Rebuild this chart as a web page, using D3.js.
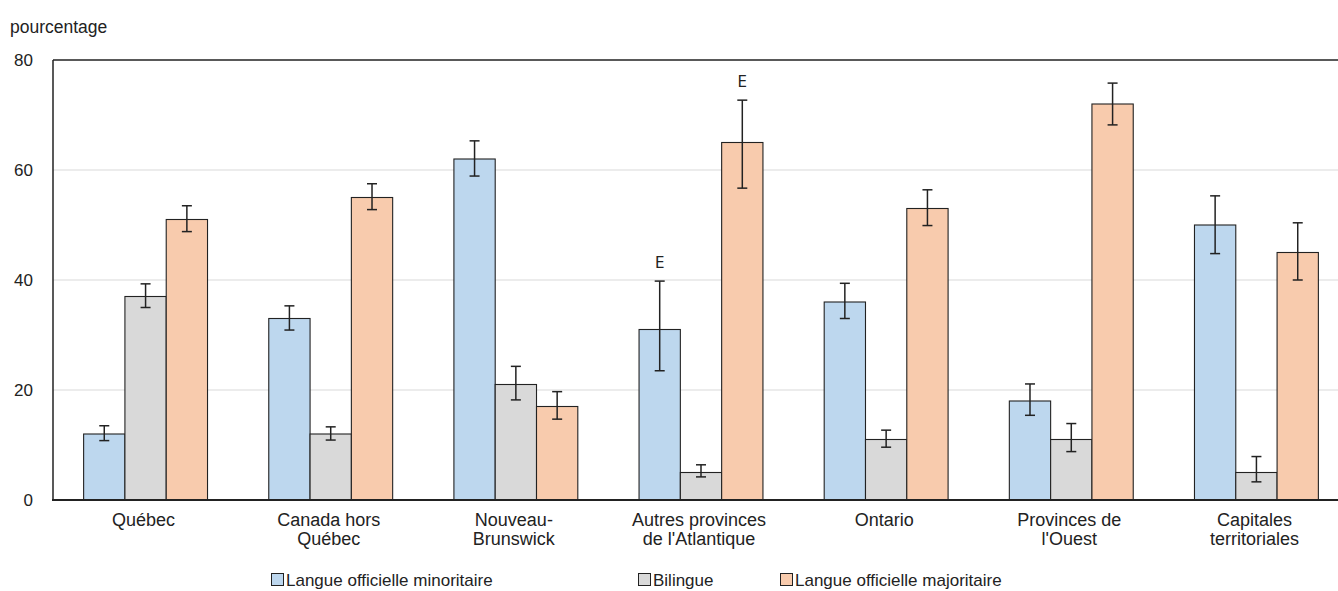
<!DOCTYPE html>
<html lang="fr">
<head>
<meta charset="utf-8">
<script src="https://cdn.jsdelivr.net/npm/d3@7"></script>
<style>
  html, body { margin: 0; padding: 0; background: #fff; }
  svg { display: block; }
  text { font-family: "Liberation Sans", Arial, sans-serif; fill: #222; }
</style>
</head>
<body>
<svg id="chart" width="1338" height="591"></svg>
<script>
// Regions (category labels, line breaks marked with \n)
const categories = [
  "Québec",
  "Canada hors\nQuébec",
  "Nouveau-\nBrunswick",
  "Autres provinces\nde l'Atlantique",
  "Ontario",
  "Provinces de\nl'Ouest",
  "Capitales\nterritoriales"
];

// Series values (percentage)
const minoritaire = [12, 33, 62, 31, 36, 18, 50];
const bilingue    = [37, 12, 21, 5, 11, 11, 5];
const majoritaire = [51, 55, 17, 65, 53, 72, 45];

// Confidence intervals (low / high)
const minoritaireLow  = [10.8, 30.9, 58.9, 23.5, 33.0, 15.4, 44.8];
const minoritaireHigh = [13.5, 35.3, 65.3, 39.8, 39.4, 21.1, 55.3];
const bilingueLow     = [35.0, 10.9, 18.2, 4.2, 9.6, 8.8, 3.3];
const bilingueHigh    = [39.3, 13.3, 24.3, 6.4, 12.7, 13.9, 7.9];
const majoritaireLow  = [48.8, 52.8, 14.7, 56.7, 49.9, 68.2, 40.0];
const majoritaireHigh = [53.5, 57.5, 19.7, 72.7, 56.4, 75.8, 50.4];

// Quality flags ("E" = use with caution)
const minoritaireFlag = ["", "", "", "E", "", "", ""];
const bilingueFlag    = ["", "", "", "", "", "", ""];
const majoritaireFlag = ["", "", "", "E", "", "", ""];

// Legend labels and y-axis ticks
const seriesNames = ["Langue officielle minoritaire", "Bilingue", "Langue officielle majoritaire"];
const yTicks = [0, 20, 40, 60, 80];
const yTitle = "pourcentage";

(function drawChart() {
  const seriesColors = ["#bdd7ee", "#d9d9d9", "#f8cbad"];

  const series = [
    { name: seriesNames[0], values: minoritaire, low: minoritaireLow, high: minoritaireHigh, flag: minoritaireFlag },
    { name: seriesNames[1], values: bilingue,    low: bilingueLow,    high: bilingueHigh,    flag: bilingueFlag },
    { name: seriesNames[2], values: majoritaire, low: majoritaireLow, high: majoritaireHigh, flag: majoritaireFlag }
  ];

  const svg = d3.select("#chart");
  const plotLeft = 53, plotRight = 1349, plotTop = 60, plotBottom = 500, edge = 1338;

  const x0 = d3.scaleBand().domain(categories).range([plotLeft, plotRight]).padding(0);
  const step = x0.bandwidth();
  const barW = 41.3;
  const x1 = d3.scaleBand().domain(seriesNames)
    .range([(step - 3 * barW) / 2, (step + 3 * barW) / 2]).padding(0);
  const y = d3.scaleLinear().domain([0, 80]).range([plotBottom, plotTop]);

  // Grid lines
  svg.append("g").selectAll("line")
    .data(yTicks.filter(t => t > 0 && t < 80))
    .join("line")
    .attr("x1", plotLeft).attr("x2", edge)
    .attr("y1", d => y(d)).attr("y2", d => y(d))
    .attr("stroke", "#d9d9d9").attr("stroke-width", 1.2);

  // Top frame line
  svg.append("line")
    .attr("x1", plotLeft).attr("x2", edge)
    .attr("y1", y(80)).attr("y2", y(80))
    .attr("stroke", "#222").attr("stroke-width", 1.3);

  // Y axis labels
  const yAxis = d3.axisLeft(y).tickValues(yTicks).tickSize(0).tickPadding(20);
  const gy = svg.append("g").attr("transform", `translate(${plotLeft},0)`).call(yAxis);
  gy.select(".domain").remove();
  gy.attr("font-family", null).attr("font-size", null);
  gy.selectAll("text")
    .style("font-size", "17px")
    .attr("fill", "#222");

  // Y axis title
  svg.append("text")
    .attr("x", 10).attr("y", 33)
    .style("font-size", "17.5px")
    .text(yTitle);

  // Bars
  const groups = svg.append("g").selectAll("g")
    .data(categories)
    .join("g")
    .attr("transform", d => `translate(${x0(d)},0)`);

  series.forEach((s, si) => {
    groups.append("rect")
      .attr("x", x1(s.name))
      .attr("width", x1.bandwidth())
      .attr("y", (d, i) => y(s.values[i]))
      .attr("height", (d, i) => y(0) - y(s.values[i]))
      .attr("fill", seriesColors[si])
      .attr("stroke", "#222")
      .attr("stroke-width", 1.1);
  });

  // Error bars and flags
  series.forEach((s) => {
    const cx = x1(s.name) + x1.bandwidth() / 2;
    const cap = 5;
    groups.append("line")
      .attr("x1", cx).attr("x2", cx)
      .attr("y1", (d, i) => y(s.low[i])).attr("y2", (d, i) => y(s.high[i]))
      .attr("stroke", "#222").attr("stroke-width", 1.5);
    groups.append("line")
      .attr("x1", cx - cap).attr("x2", cx + cap)
      .attr("y1", (d, i) => y(s.high[i])).attr("y2", (d, i) => y(s.high[i]))
      .attr("stroke", "#222").attr("stroke-width", 1.5);
    groups.append("line")
      .attr("x1", cx - cap).attr("x2", cx + cap)
      .attr("y1", (d, i) => y(s.low[i])).attr("y2", (d, i) => y(s.low[i]))
      .attr("stroke", "#222").attr("stroke-width", 1.5);
    groups.append("text")
      .attr("x", cx)
      .attr("y", (d, i) => y(s.high[i]) - 13)
      .attr("text-anchor", "middle")
      .style("font-family", "'DejaVu Sans', sans-serif")
      .style("font-size", "15px")
      .text((d, i) => s.flag[i]);
  });

  // Axis lines
  svg.append("line")
    .attr("x1", plotLeft).attr("x2", plotLeft)
    .attr("y1", y(80)).attr("y2", y(0))
    .attr("stroke", "#222").attr("stroke-width", 1.5);
  svg.append("line")
    .attr("x1", plotLeft - 1).attr("x2", edge)
    .attr("y1", y(0)).attr("y2", y(0))
    .attr("stroke", "#222").attr("stroke-width", 2);

  // Category labels
  const catLabels = svg.append("g").selectAll("text")
    .data(categories)
    .join("text")
    .attr("x", d => x0(d) + step / 2 - 2)
    .attr("y", 526)
    .attr("text-anchor", "middle")
    .style("font-size", "18px");
  catLabels.selectAll("tspan")
    .data(d => d.split("\n"))
    .join("tspan")
    .attr("x", function () { return d3.select(this.parentNode).attr("x"); })
    .attr("dy", (d, i) => i === 0 ? 0 : 18.5)
    .text(d => d);

  // Legend
  const legendX = [271, 638, 780];
  const legend = svg.append("g").selectAll("g")
    .data(series)
    .join("g")
    .attr("transform", (d, i) => `translate(${legendX[i]},573)`);
  legend.append("rect")
    .attr("x", 0.5).attr("y", 0.5)
    .attr("width", 12).attr("height", 12)
    .attr("fill", (d, i) => seriesColors[i])
    .attr("stroke", "#222").attr("stroke-width", 1);
  legend.append("text")
    .attr("x", 15).attr("y", 13)
    .style("font-size", "17px")
    .text(d => d.name);
})();
</script>
</body>
</html>
